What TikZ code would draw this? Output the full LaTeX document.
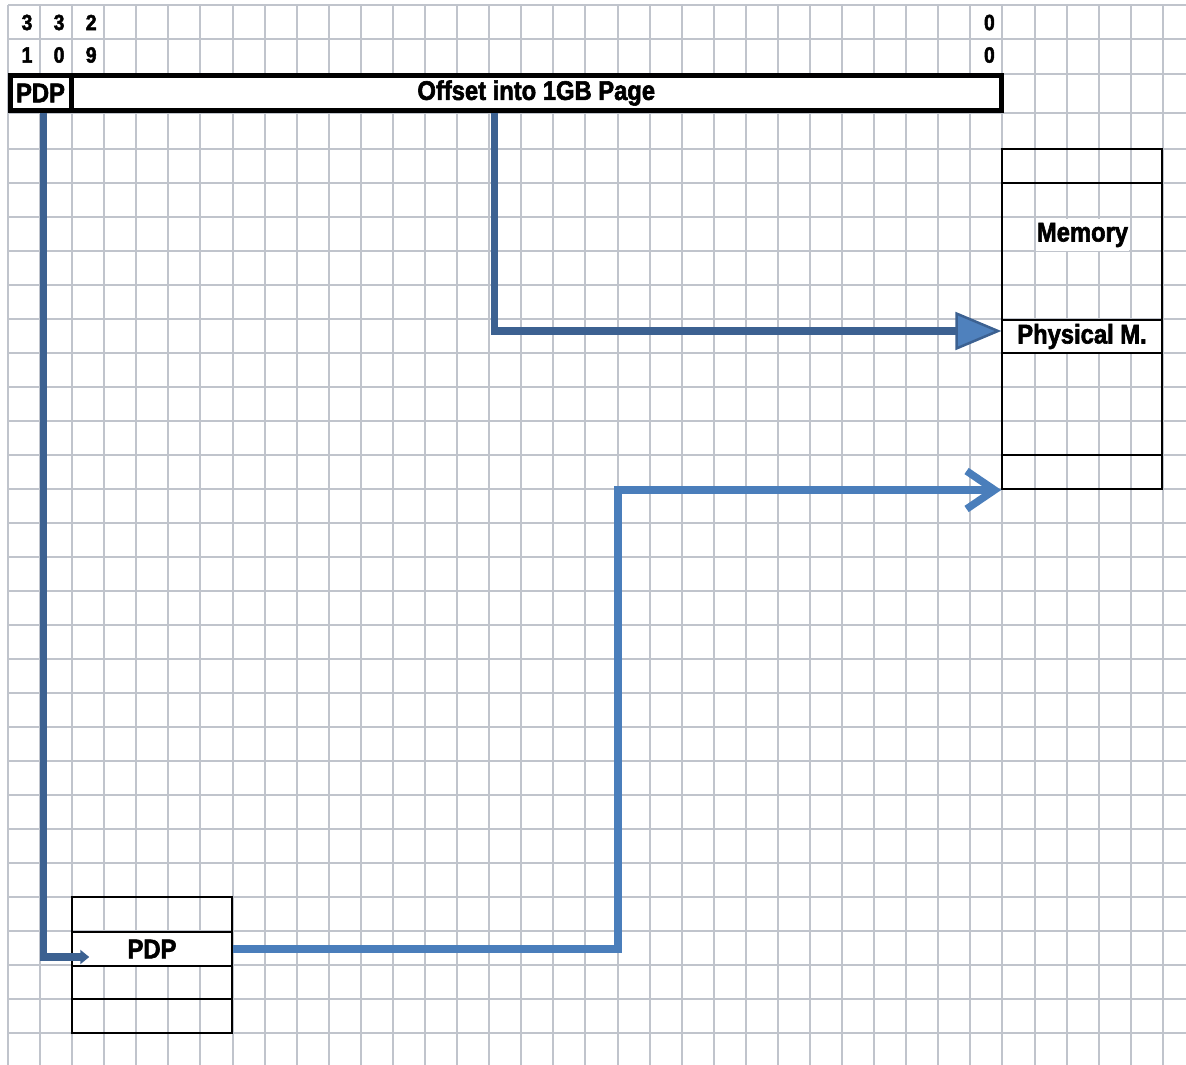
\documentclass[tikz,border=0pt]{standalone}
\usepackage{fontspec}
\setmainfont{Liberation Sans}
\newfontfamily\cellfont[FakeStretch=0.88,FakeBold=2.2]{Liberation Sans Bold}
\usetikzlibrary{arrows.meta}
\definecolor{gridgray}{HTML}{C0C4CC}
\definecolor{arrdark}{HTML}{3C6191}
\definecolor{arrfill}{HTML}{4F81BD}
\definecolor{arrlight}{HTML}{4A7EBB}

\begin{document}
\begin{tikzpicture}[x=1pt,y=-1pt,
    gridline/.style={draw=gridgray,line width=2pt},
    bitnum/.style={inner sep=0pt,font=\fontsize{22}{24}\cellfont},
    field/.style={draw,fill=white,line width=5pt,minimum height=34.5pt,inner sep=0pt,font=\fontsize{27}{30}\cellfont},
    cell/.style={draw,line width=1.5pt,minimum width=160pt,inner sep=0pt},
    entry/.style={cell,fill=white,font=\fontsize{27}{30}\cellfont},
    ptr/.style={line width=7.5pt}]

  \useasboundingbox (0,0) rectangle (1186,1065);

  % Sheet grid
  \foreach \i in {0,...,36}
    \draw[gridline] ({8+32.08*\i},5) -- ({8+32.08*\i},1065);
  \foreach \y in {5,39,74,113}
    \draw[gridline] (8,\y) -- (1186,\y);
  \foreach \k in {0,...,26}
    \draw[gridline] (8,{149+34*\k}) -- (1186,{149+34*\k});

  % Bit numbers
  \foreach \c/\hi/\lo in {0/3/1,1/3/0,2/2/9,30/0/0} {
    \node[bitnum] (hi\c) at ({27+32.08*\c},22.5) {\hi};
    \node[bitnum] (lo\c) at ({27+32.08*\c},55) {\lo};
  }

  % Linear address
  \node[field,minimum width=61pt] (pdpf) at (40.5,93) {PDP};
  \node[field,minimum width=930.5pt] (offs) at (536.25,93) {Offset into 1GB Page};

  % Physical memory
  \foreach \t/\b/\n in {149/183/mtop,183/320/mupper,353/455/mlower,455/489/mlast}
    \node[cell,minimum height={(\b-\t)*1pt}] (\n) at (1082,{(\t+\b)/2}) {};
  \node[entry,minimum height=33pt] (phys) at (1082,336.5) {Physical M.};
  \node[fill=white,inner sep=0pt,minimum width=93pt,minimum height=32pt,
        font=\fontsize{27}{30}\cellfont] (memlbl) at (1082.5,235) {Memory};

  % Page directory pointer table
  \foreach \t/\b/\n in {897/932/ptop,966/999/pmid,999/1033/pbot}
    \node[cell,minimum height={(\b-\t)*1pt}] (\n) at (152,{(\t+\b)/2}) {};
  \node[entry,minimum height=34pt] (pdpent) at (152,949) {PDP};

  % Pointers
  \draw[ptr,draw=arrdark,-{Triangle[length=9pt,width=14pt]}]
    ([xshift=3pt]pdpf.south) |- ([xshift=18pt,yshift=-8pt]pdpent.west);
  \draw[ptr,draw=arrdark,-{Triangle[length=46pt,width=38pt,fill=arrfill,line width=2.5pt]}]
    ([xshift=-42pt]offs.south) |- ([yshift=5.5pt]phys.west);
  \coordinate (riser) at (618,490);
  \draw[ptr,draw=arrlight,-{Straight Barb[length=28pt,width=38pt]}]
    (pdpent.east) -| (riser) -- (riser -| mlast.south west);

\end{tikzpicture}
\end{document}
